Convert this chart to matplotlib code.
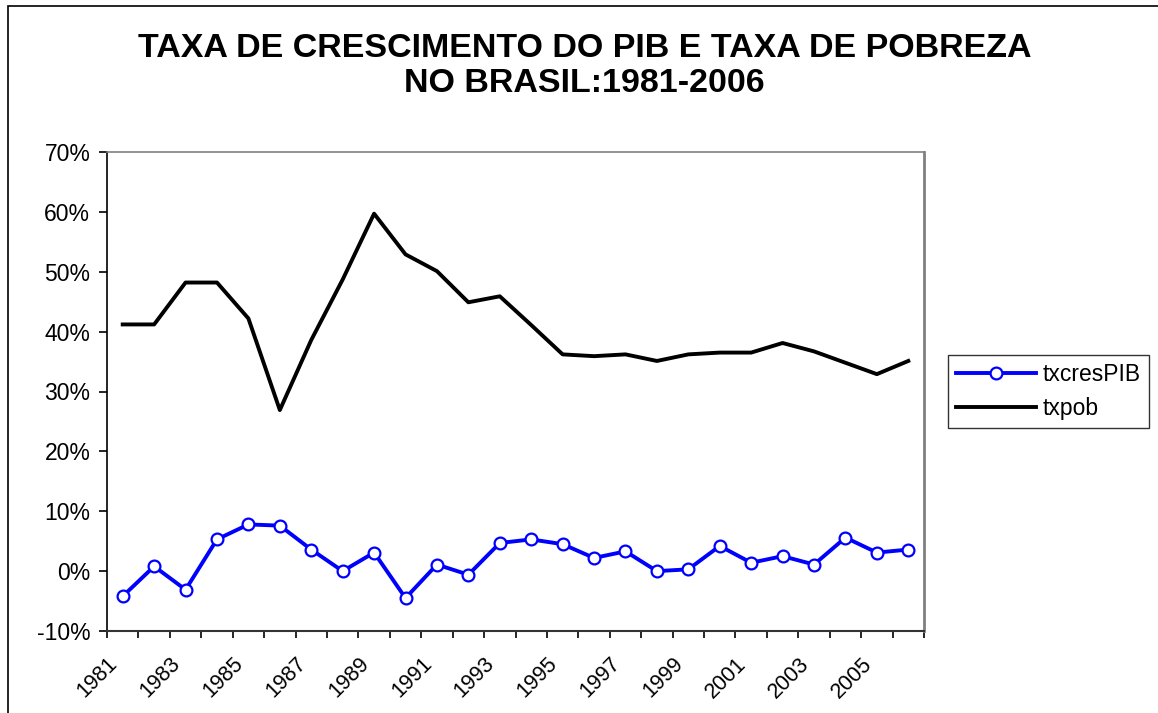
import numpy as np
import matplotlib
matplotlib.use("Agg")
import matplotlib.pyplot as plt
import matplotlib.transforms as mtransforms
from matplotlib.patches import Rectangle

plt.rcParams['font.family'] = ['Liberation Sans', 'DejaVu Sans']

anos = list(range(1981, 2007))
txcresPIB = [-4.2, 0.8, -3.1, 5.3, 7.8, 7.6, 3.6, 0.0, 3.1, -4.5, 1.1, -0.6, 4.7,
             5.3, 4.5, 2.2, 3.3, 0.0, 0.3, 4.2, 1.4, 2.5, 1.1, 5.6, 3.1, 3.6]
txpob = [41.2, 41.2, 48.2, 48.2, 42.2, 26.9, 38.6, 48.7, 59.7, 52.9, 50.1, 44.9, 45.9,
         41.1, 36.2, 35.9, 36.2, 35.1, 36.2, 36.5, 36.5, 38.1, 36.7, 34.8, 32.9, 35.1]
rotulos = [str(a) for a in anos[::2]][:13]

fig = plt.figure(figsize=(11.58, 7.13), dpi=100)
ax = fig.add_axes([107 / 1158, 1 - 631 / 713, (924 - 107) / 1158, (631 - 152) / 713])

# moldura do gráfico (só aparece em cima e à esquerda)
fig.patches.append(Rectangle((8 / 1158, -0.1), 1.2, 1 - 6 / 713 + 0.1,
                             transform=fig.transFigure, fill=False,
                             edgecolor='black', linewidth=1.2))

x = np.arange(len(anos)) + 0.5
ax.plot(x, txcresPIB, color='#0000FF', lw=2.8, marker='o', markersize=8.5,
        markerfacecolor='white', markeredgecolor='#0000FF', markeredgewidth=1.6,
        label='txcresPIB', zorder=3)
ax.plot(x, txpob, color='black', lw=2.8, label='txpob', zorder=2)

ax.set_xlim(0, len(anos))
ax.set_ylim(-10, 70)
ax.set_yticks(np.arange(-10, 71, 10))
ax.set_yticklabels([f'{v}%' for v in range(-10, 71, 10)], fontsize=16.5)

ax.set_xticks(np.arange(0, len(anos) + 1), minor=True)
ax.set_xticks(np.arange(0, 26, 2))
ax.set_xticklabels(rotulos, fontsize=15.5, rotation=45, ha='right',
                   rotation_mode='anchor')
desloc = mtransforms.ScaledTranslation(-6 / 72, 0, fig.dpi_scale_trans)
for lb in ax.get_xticklabels():
    lb.set_transform(lb.get_transform() + desloc)
ax.tick_params(axis='x', which='both', direction='out', length=5, width=1.2)
ax.tick_params(axis='x', which='major', pad=11)
ax.tick_params(axis='y', direction='out', length=6, width=1.2, pad=6)

ax.spines['top'].set_color('#808080')
ax.spines['right'].set_color('#808080')
ax.spines['right'].set_linewidth(2)
ax.spines['top'].set_linewidth(1.2)
ax.spines['left'].set_linewidth(1.2)
ax.spines['bottom'].set_linewidth(1.5)
ax.spines['bottom'].set_color('#333333')

fig.text(0.505, 1 - 66 / 713, 'TAXA DE CRESCIMENTO DO PIB E TAXA DE POBREZA\nNO BRASIL:1981-2006',
         ha='center', va='center', fontsize=24.5, fontweight='bold', linespacing=1.2)

leg = ax.legend(loc='center left', bbox_to_anchor=(1.029, 0.5), fontsize=16.5,
                frameon=True, fancybox=False, edgecolor='black', handlelength=3.5,
                borderpad=0.35, labelspacing=0.45, handletextpad=0.3,
                borderaxespad=0)
leg.get_frame().set_linewidth(1.0)

fig.savefig('out.png', dpi=100)
